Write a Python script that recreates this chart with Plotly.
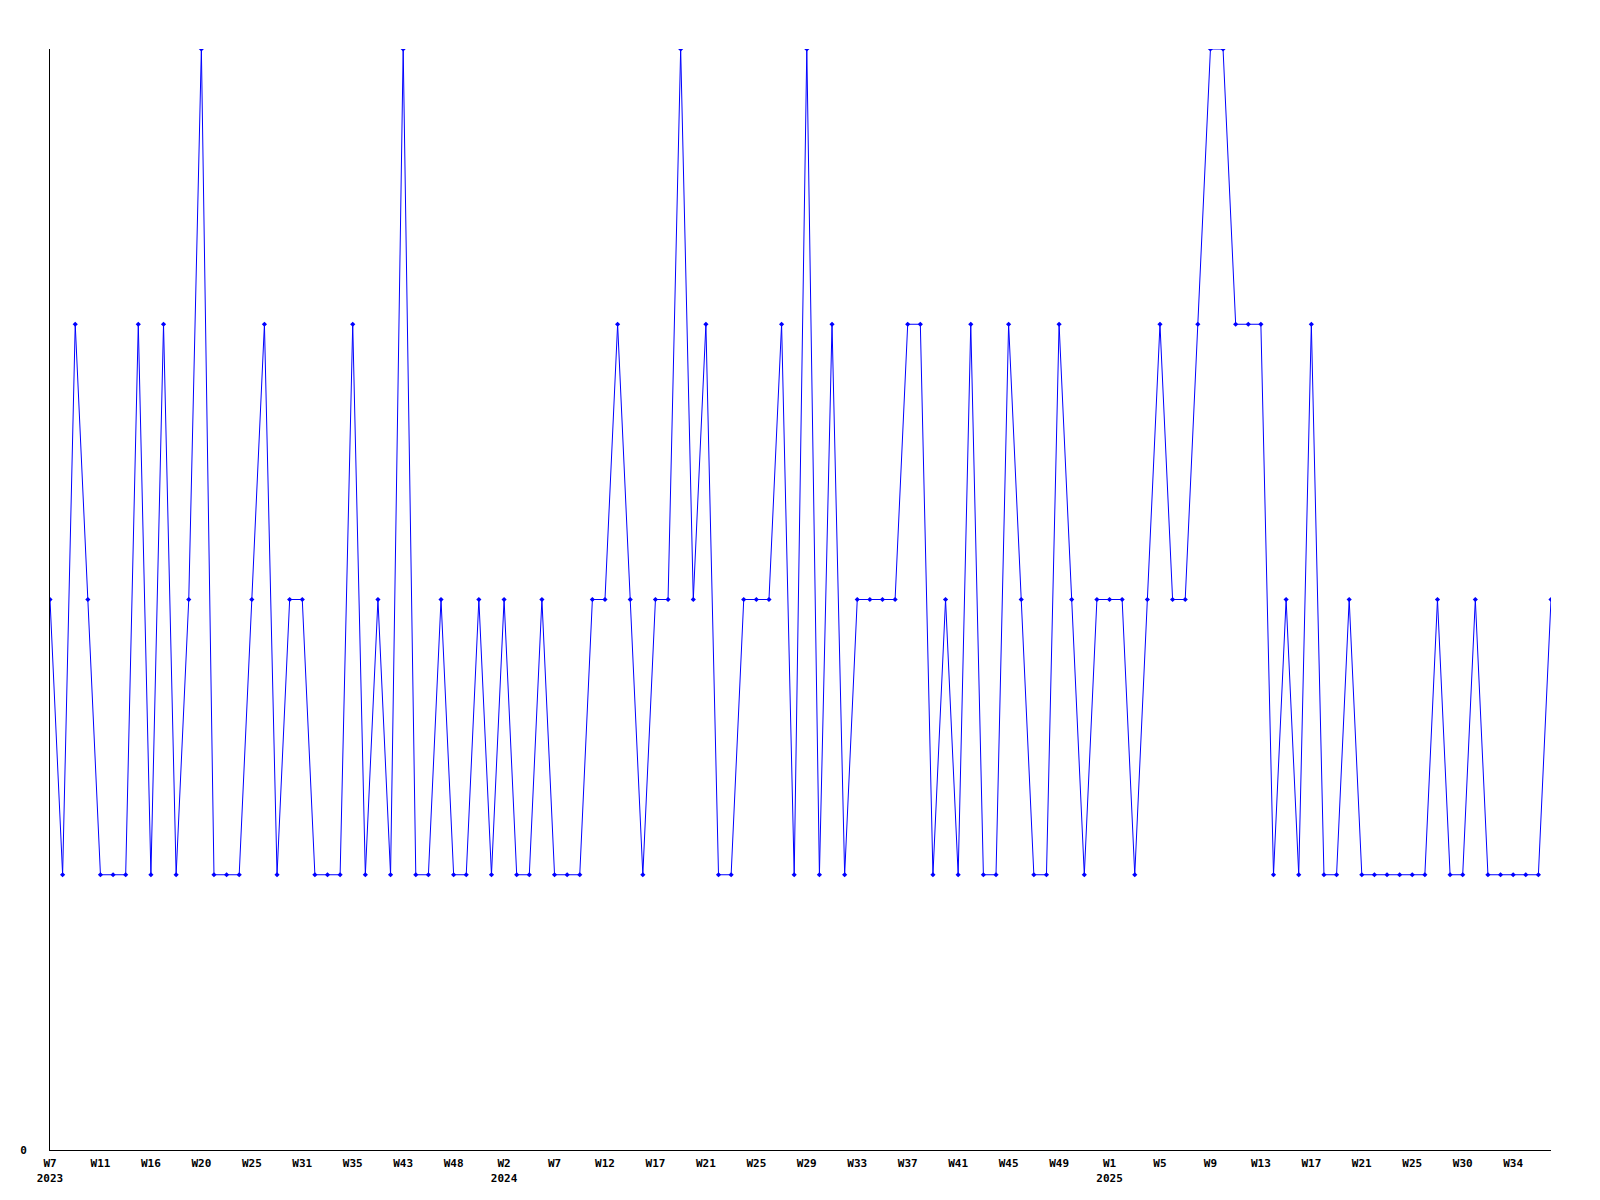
import plotly.graph_objs as go

# weeks that have data (categorical, evenly spaced)
weeks_2023 = [7, 8, 9, 10, 11, 12, 13, 15, 16, 17, 18, 19, 20, 21, 22, 24, 25, 26, 28, 30,
              31, 32, 33, 34, 35, 37, 39, 41, 43, 44, 45, 47, 48, 49, 51, 52]
weeks_2024 = [2, 3, 4, 6, 7, 8, 9, 11, 12, 13, 15, 16, 17, 18, 19, 20, 21, 22, 23, 24,
              25, 26, 27, 28, 29, 30, 31, 32, 33, 34, 35, 36, 37, 38, 39, 40, 41, 42, 43, 44,
              45, 46, 47, 48, 49, 50, 51, 52]
weeks_2025 = [1, 2, 3, 4, 5, 6, 7, 8, 9, 10, 11, 12, 13, 14, 15, 16, 17, 18, 19, 20,
              21, 22, 23, 24, 25, 26, 27, 29, 30, 31, 32, 33, 34, 35, 36, 37]

counts = [2, 1, 3, 2, 1, 1, 1, 3, 1, 3, 1, 2, 4, 1, 1, 1, 2, 3, 1, 2,
          2, 1, 1, 1, 3, 1, 2, 1, 4, 1, 1, 2, 1, 1, 2, 1, 2, 1, 1, 2,
          1, 1, 1, 2, 2, 3, 2, 1, 2, 2, 4, 2, 3, 1, 1, 2, 2, 2, 3, 1,
          4, 1, 3, 1, 2, 2, 2, 2, 3, 3, 1, 2, 1, 3, 1, 1, 3, 2, 1, 1,
          3, 2, 1, 2, 2, 2, 1, 2, 3, 2, 2, 3, 4, 4, 3, 3, 3, 1, 2, 1,
          3, 1, 1, 2, 1, 1, 1, 1, 1, 1, 2, 1, 1, 2, 1, 1, 1, 1, 1, 2]


def build_categories():
    cats = []
    labels = []
    for year, weeks in [(2023, weeks_2023), (2024, weeks_2024), (2025, weeks_2025)]:
        for i, w in enumerate(weeks):
            cats.append('%d-W%02d' % (year, w))
            if i == 0:
                labels.append('W%d<br>%d' % (w, year))
            else:
                labels.append('W%d' % w)
    return cats, labels


cats, labels = build_categories()
tick_vals = cats[::4]
tick_text = labels[::4]

font = dict(family='DejaVu Sans Mono', size=11, color='black', weight='bold')

# page body has an 8px margin, so the figure is a little smaller than the window
figure = go.Figure(
    data=[
        go.Scatter(x=cats, y=counts, mode='lines+markers',
                   line=dict(color='#0000ff', width=1),
                   marker=dict(color='#0000ff', size=4, symbol='diamond'))
    ],
    layout=go.Layout(
        width=1584, height=1184,
        showlegend=False,
        plot_bgcolor='white', paper_bgcolor='white',
        margin=dict(l=42, r=41, t=41, b=42),
        xaxis=dict(type='category', range=[0, len(cats) - 1],
                   tickmode='array', tickvals=tick_vals, ticktext=tick_text,
                   showgrid=False, zeroline=False, showline=True,
                   linecolor='black', linewidth=1, ticks='',
                   tickangle=0, tickfont=font, ticklabelstandoff=3,
                   automargin=False),
        yaxis=dict(range=[0, 4], tickmode='array', tickvals=[0], ticktext=['0'],
                   showgrid=False, zeroline=False, showline=True,
                   linecolor='black', linewidth=1, ticks='',
                   ticklabelstandoff=20, tickfont=font, automargin=False),
    )
)

figure.write_html('out.html')
